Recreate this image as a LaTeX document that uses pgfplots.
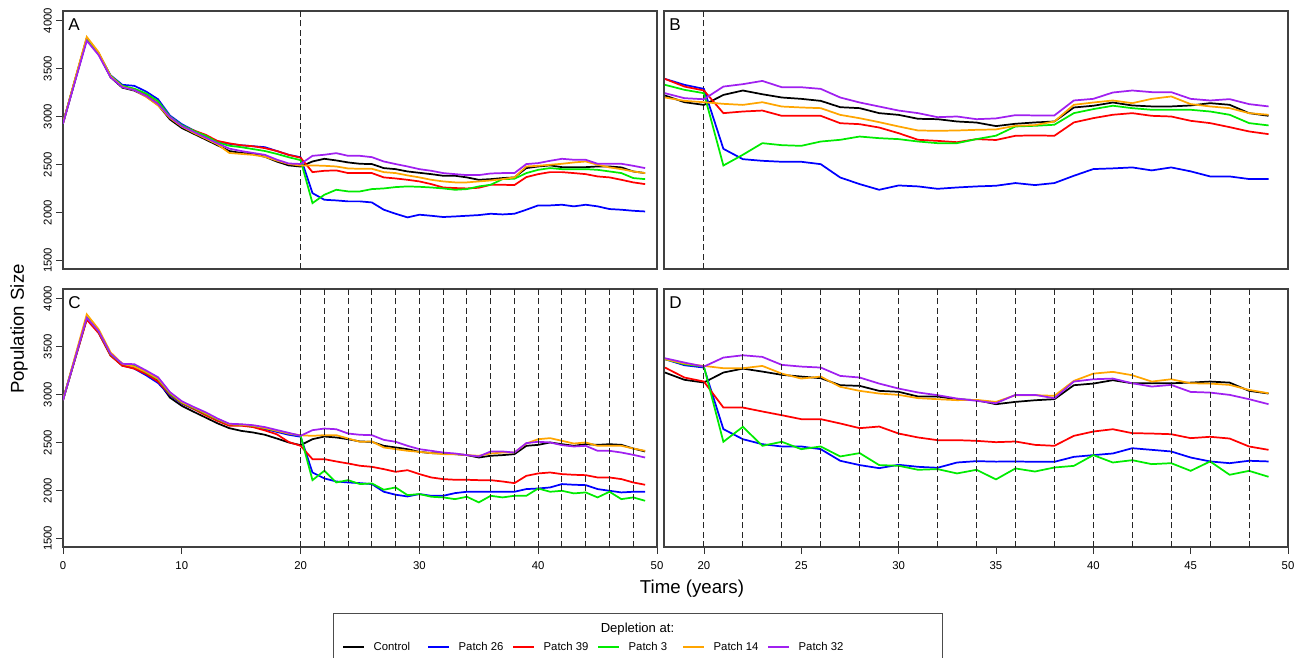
\documentclass[border=0pt]{standalone}
\usepackage{fontspec}
\setmainfont{Liberation Sans}
\usepackage{pgfplots}
\usepackage{pgfplotstable}
\pgfplotsset{compat=1.18}

\definecolor{cblue}{RGB}{0,0,255}
\definecolor{cred}{RGB}{255,0,0}
\definecolor{cgreen}{RGB}{0,235,0}
\definecolor{corange}{RGB}{255,165,0}
\definecolor{cpurple}{RGB}{160,32,240}

% panel A: single depletion at year 20
\pgfplotstableread{
t ctrl p26 p39 p3 p14 p32
0 2930 2930 2930 2930 2930 2925
1 3370 3370 3375 3375 3385 3360
2 3810 3805 3815 3815 3830 3790
3 3650 3655 3660 3660 3670 3640
4 3410 3430 3420 3425 3420 3410
5 3300 3330 3310 3320 3310 3305
6 3270 3320 3285 3290 3275 3275
7 3210 3260 3225 3240 3205 3215
8 3120 3180 3135 3160 3115 3130
9 2970 3010 2990 3000 2985 2995
10 2880 2920 2900 2910 2895 2900
11 2820 2855 2855 2850 2830 2840
12 2760 2790 2810 2800 2770 2780
13 2700 2740 2745 2730 2710 2720
14 2640 2715 2720 2695 2620 2665
15 2620 2700 2700 2680 2610 2640
16 2610 2690 2690 2660 2600 2620
17 2580 2680 2670 2640 2580 2600
18 2530 2640 2640 2610 2540 2550
19 2490 2600 2600 2575 2505 2510
20 2478 2575 2570 2545 2488 2505
21 2531 2201 2420 2097 2490 2590
22 2559 2132 2434 2184 2486 2601
23 2542 2125 2438 2236 2479 2618
24 2521 2115 2410 2219 2458 2590
25 2507 2115 2410 2219 2455 2590
26 2504 2104 2410 2243 2455 2576
27 2462 2028 2365 2250 2420 2531
28 2451 1986 2354 2264 2410 2504
29 2427 1948 2340 2271 2386 2479
30 2413 1976 2323 2267 2365 2451
31 2399 1965 2295 2260 2340 2434
32 2382 1952 2260 2250 2323 2410
33 2382 1958 2254 2236 2313 2399
34 2365 1965 2250 2243 2313 2389
35 2340 1972 2257 2271 2323 2389
36 2347 1986 2288 2288 2333 2406
37 2358 1979 2288 2347 2347 2410
38 2365 1986 2285 2351 2365 2410
39 2462 2028 2368 2410 2479 2504
40 2479 2073 2399 2444 2486 2514
41 2490 2073 2420 2462 2497 2538
42 2472 2080 2420 2451 2507 2559
43 2472 2063 2410 2451 2521 2549
44 2472 2080 2399 2451 2531 2549
45 2479 2063 2375 2444 2497 2507
46 2479 2035 2365 2427 2469 2507
47 2469 2028 2340 2410 2451 2507
48 2427 2017 2313 2358 2427 2486
49 2410 2010 2295 2347 2410 2462
}\dataA

% panel B
\pgfplotstableread{
t ctrl p26 p39 p3 p14 p32
18 3219 3392 3392 3330 3198 3243
19 3149 3330 3312 3278 3163 3191
20 3121 3288 3271 3243 3149 3180
21 3225 2663 3035 2489 3132 3312
22 3271 2555 3052 2601 3121 3337
23 3232 2538 3062 2722 3149 3371
24 3198 2528 3007 2701 3104 3305
25 3184 2528 3007 2694 3094 3305
26 3163 2503 3007 2739 3087 3288
27 3097 2364 2930 2757 3017 3198
28 3087 2295 2920 2791 2982 3146
29 3035 2236 2885 2774 2941 3104
30 3017 2281 2826 2764 2896 3062
31 2976 2271 2757 2739 2854 3035
32 2972 2246 2746 2722 2851 2993
33 2948 2260 2732 2722 2854 3000
34 2937 2271 2764 2764 2861 2972
35 2900 2278 2755 2800 2865 2980
36 2924 2306 2799 2896 2903 3014
37 2938 2285 2803 2903 2910 3011
38 2948 2306 2799 2914 2948 3011
39 3094 2382 2938 3035 3122 3167
40 3112 2452 2983 3077 3146 3184
41 3146 2459 3018 3112 3167 3250
42 3115 2469 3035 3087 3139 3271
43 3105 2438 3007 3070 3184 3254
44 3105 2469 3000 3070 3209 3254
45 3115 2428 2955 3070 3129 3184
46 3139 2375 2931 3052 3105 3167
47 3122 2375 2889 3018 3087 3181
48 3035 2348 2844 2931 3035 3129
49 3007 2348 2816 2907 3018 3105
}\dataB

% panel C: repeated depletion every 2 years
\pgfplotstableread{
t ctrl p26 p39 p3 p14 p32
0 2944 2944 2944 2944 2944 2940
1 3367 3372 3362 3375 3390 3370
2 3790 3800 3780 3805 3836 3800
3 3650 3645 3640 3660 3680 3660
4 3410 3415 3405 3420 3440 3425
5 3300 3310 3300 3320 3320 3320
6 3275 3270 3270 3300 3290 3316
7 3210 3200 3215 3230 3235 3250
8 3140 3120 3135 3160 3165 3180
9 2968 2990 3000 3010 3020 3025
10 2882 2905 2910 2915 2920 2930
11 2820 2850 2850 2860 2865 2870
12 2760 2790 2785 2800 2805 2815
13 2700 2735 2725 2740 2745 2750
14 2649 2690 2675 2690 2690 2695
15 2621 2680 2675 2685 2685 2690
16 2604 2665 2660 2673 2675 2680
17 2580 2640 2625 2649 2650 2660
18 2541 2610 2585 2621 2621 2630
19 2500 2580 2505 2593 2593 2600
20 2472 2560 2465 2570 2575 2570
21 2534 2187 2326 2107 2569 2628
22 2562 2125 2326 2205 2576 2645
23 2552 2093 2302 2083 2576 2638
24 2534 2083 2281 2107 2541 2593
25 2510 2076 2257 2066 2507 2580
26 2507 2066 2246 2073 2510 2576
27 2465 1986 2222 2007 2448 2527
28 2448 1955 2194 2031 2430 2507
29 2430 1937 2211 1951 2413 2465
30 2402 1962 2170 1962 2402 2430
31 2389 1944 2135 1934 2389 2413
32 2385 1944 2118 1927 2378 2395
33 2378 1972 2111 1909 2378 2385
34 2368 1986 2111 1934 2368 2368
35 2343 1986 2107 1875 2361 2354
36 2361 1986 2107 1944 2385 2406
37 2368 1986 2093 1927 2395 2406
38 2378 1986 2076 1944 2395 2395
39 2465 2014 2152 1944 2489 2493
40 2475 2020 2177 2020 2534 2507
41 2500 2031 2187 1986 2545 2500
42 2482 2066 2170 1996 2517 2472
43 2465 2059 2163 1969 2489 2458
44 2482 2055 2159 1979 2500 2465
45 2475 2014 2135 1927 2465 2413
46 2482 1996 2135 1986 2465 2413
47 2475 1979 2118 1909 2465 2395
48 2437 1986 2083 1927 2437 2371
49 2406 1986 2059 1892 2413 2343
}\dataC

% panel D
\pgfplotstableread{
t ctrl p26 p39 p3 p14 p32
18 3229 3368 3281 3368 3368 3378
19 3153 3305 3177 3316 3323 3333
20 3125 3281 3135 3291 3298 3291
21 3229 2639 2864 2507 3274 3385
22 3270 2534 2864 2663 3274 3409
23 3239 2482 2823 2465 3298 3392
24 3205 2458 2784 2507 3218 3309
25 3187 2458 2743 2430 3166 3291
26 3170 2430 2743 2458 3187 3281
27 3097 2309 2698 2354 3080 3194
28 3090 2264 2649 2389 3038 3177
29 3038 2232 2666 2264 3010 3114
30 3028 2267 2593 2257 2996 3062
31 2979 2246 2552 2215 2962 3021
32 2979 2236 2524 2222 2951 2993
33 2951 2291 2524 2177 2941 2958
34 2941 2305 2517 2215 2944 2934
35 2899 2300 2503 2115 2923 2909
36 2923 2302 2510 2229 2993 2996
37 2940 2298 2475 2197 2993 2996
38 2951 2298 2465 2239 2986 2961
39 3097 2350 2569 2256 3142 3135
40 3114 2368 2614 2368 3218 3159
41 3149 2385 2638 2291 3236 3166
42 3117 2440 2597 2315 3201 3117
43 3117 2423 2593 2274 3135 3083
44 3117 2406 2586 2284 3159 3100
45 3124 2343 2545 2204 3117 3027
46 3135 2302 2559 2302 3114 3020
47 3124 2284 2541 2163 3100 2996
48 3038 2309 2458 2204 3048 2951
49 3010 2302 2423 2142 3013 2899
}\dataD

\tikzset{
  sctrl/.style={black, line width=1.3pt},
  sp26/.style={cblue, line width=1.3pt},
  sp39/.style={cred, line width=1.3pt},
  sp3/.style={cgreen, line width=1.3pt},
  sp14/.style={corange, line width=1.3pt},
  sp32/.style={cpurple, line width=1.3pt},
  vline/.style={black!85, line width=0.75pt, dash pattern=on 4.5pt off 2.5pt},
}
\pgfplotsset{
  panel/.style={
    scale only axis, height=193.5pt, anchor=south west,
    ymin=1410, ymax=4100,
    axis line style={black!75, line width=1pt},
    tick style={black!80, line width=0.6pt},
    tick align=outside, major tick length=5pt,
    xtick pos=bottom, ytick pos=left,
    ticklabel style={font=\fontsize{8.5}{10}\selectfont},
    xticklabel style={yshift=-2.5pt},
    /pgf/number format/assume math mode=true,
    /pgf/number format/set thousands separator={},
    yticklabel style={rotate=90, anchor=south},
  },
  leftpanel/.style={panel, width=445.5pt, xmin=0, xmax=50,
    ytick={1500,2000,...,4000}},
  rightpanel/.style={panel, width=468pt, xmin=17.95, xmax=50, ytick=\empty},
}

\newcommand{\sixlines}[1]{%
  \addplot[sctrl] table[x=t,y=ctrl]{#1};
  \addplot[sp26] table[x=t,y=p26]{#1};
  \addplot[sp39] table[x=t,y=p39]{#1};
  \addplot[sp3] table[x=t,y=p3]{#1};
  \addplot[sp14] table[x=t,y=p14]{#1};
  \addplot[sp32] table[x=t,y=p32]{#1};
}
\newcommand{\panelletter}[1]{%
  \node[anchor=north west, inner sep=0pt, font=\fontsize{12.8}{14}\selectfont]
    at ([xshift=3.75pt,yshift=-5.25pt]axis description cs:0,1) {#1};}

\begin{document}
\begin{tikzpicture}

% A
\begin{axis}[leftpanel, at={(47.25pt,291pt)}, xtick=\empty]
  \draw[vline] (axis cs:20,1410) -- (axis cs:20,4100);
  \sixlines{\dataA}
  \panelletter{A}
\end{axis}

% B
\begin{axis}[rightpanel, at={(498pt,291pt)}, xtick=\empty]
  \draw[vline] (axis cs:20,1410) -- (axis cs:20,4100);
  \sixlines{\dataB}
  \panelletter{B}
\end{axis}

% C
\begin{axis}[leftpanel, at={(47.25pt,82.5pt)}, xtick={0,10,...,50},
  legend columns=6,
  legend style={at={(axis description cs:0.4697,-0.3876)}, anchor=west,
    draw=none, fill=none, inner sep=0pt,
    font=\fontsize{8.5}{10}\selectfont,
    nodes={inner sep=0pt},
    /tikz/every odd column/.append style={column sep=6.5pt},
    /tikz/every even column/.append style={column sep=4.2pt}},
  legend image code/.code={\draw[#1] (0pt,0pt) -- (15.75pt,0pt);},
  legend entries={\makebox[36pt][l]{Control}, \makebox[36pt][l]{Patch 26},
    \makebox[36pt][l]{Patch 39}, \makebox[36pt][l]{Patch 3},
    \makebox[36pt][l]{Patch 14}, \makebox[36pt][l]{Patch 32}}]
  \sixlines{\dataC}
  \pgfplotsinvokeforeach{20,22,...,48}{\draw[vline] (axis cs:#1,1410) -- (axis cs:#1,4100);}
  \panelletter{C}
\end{axis}

% D
\begin{axis}[rightpanel, at={(498pt,82.5pt)}, xtick={20,25,...,50}]
  \sixlines{\dataD}
  \pgfplotsinvokeforeach{20,22,...,48}{\draw[vline] (axis cs:#1,1410) -- (axis cs:#1,4100);}
  \panelletter{D}
\end{axis}

\node[rotate=90, font=\fontsize{14}{16}\selectfont] at (14.25pt,246pt) {Population Size};
\node[font=\fontsize{14}{16}\selectfont] at (519pt,51pt) {Time (years)};

\draw[black!70, line width=0.75pt] (249.75pt,-4pt) rectangle (706.5pt,33pt);
\node[font=\fontsize{9.8}{12}\selectfont] at (478.1pt,21pt) {Depletion at:};

\pgfresetboundingbox
\useasboundingbox (0pt,0pt) rectangle (975.75pt,492.75pt);
\end{tikzpicture}
\end{document}
